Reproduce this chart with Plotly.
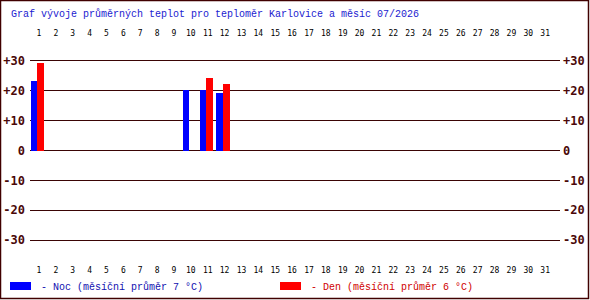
import plotly.graph_objects as go

days = list(range(1, 32))
night_days = [1, 10, 11, 12]
night_vals = [23.3, 20.3, 20.3, 19.4]
day_days = [1, 11, 12]
day_vals = [29.4, 24.4, 22.4]
y_ticks = [-30, -20, -10, 0, 10, 20, 30]
y_labels = ["-30", "-20", "-10", "0", "+10", "+20", "+30"]
title = "Graf vývoje průměrných teplot pro teploměr Karlovice a měsíc 07/2026"
legend_night = "- Noc (měsíční průměr 7 °C)"
legend_day = "- Den (měsíční průměr 6 °C)"

GRID = "#3a0505"
LAB = "#4a0808"

fig = go.Figure()
fig.add_trace(go.Bar(x=night_days, y=night_vals, marker=dict(color="#0000ff", line=dict(width=0)),
                     offset=-0.48, width=0.38, showlegend=False, hoverinfo="skip"))
fig.add_trace(go.Bar(x=day_days, y=day_vals, marker=dict(color="#ff0000", line=dict(width=0)),
                     offset=-0.1, width=0.4, showlegend=False, hoverinfo="skip"))
# invisible helper traces to activate mirrored axes
fig.add_trace(go.Scatter(x=[days[0]], y=[0], xaxis="x2", yaxis="y2", mode="markers",
                         marker=dict(opacity=0), showlegend=False, hoverinfo="skip"))

xr = [0.467, 31.88]
tickfont = dict(family="DejaVu Sans Mono", size=8, color="#000000")
yfont = dict(family="DejaVu Sans Mono", size=12, color=LAB, weight="bold")

fig.update_layout(
    width=590, height=300,
    margin=dict(l=30, r=30, t=46, b=45, autoexpand=False),
    paper_bgcolor="white", plot_bgcolor="white",
    bargap=0,
    xaxis=dict(range=xr, tickvals=days, ticktext=[str(d) for d in days], tickfont=tickfont,
               showgrid=False, zeroline=False, showline=False, ticks="", ticklabelstandoff=9,
               fixedrange=True),
    xaxis2=dict(range=xr, tickvals=days, ticktext=[str(d) for d in days], tickfont=tickfont,
                overlaying="x", side="top", showgrid=False, zeroline=False, showline=False,
                ticks="", ticklabelstandoff=7),
    yaxis=dict(range=[-35, 35], tickvals=y_ticks, ticktext=y_labels, tickfont=yfont,
               showgrid=True, gridcolor=GRID, gridwidth=1, zeroline=True, zerolinecolor=GRID,
               zerolinewidth=1, showline=False, ticks="", ticklabelstandoff=4),
    yaxis2=dict(range=[-35, 35], tickvals=y_ticks, ticktext=y_labels, tickfont=yfont,
                overlaying="y", side="right", showgrid=False, zeroline=False, showline=False,
                ticks="", ticklabelstandoff=2),
)

# title
fig.add_annotation(text=title, xref="paper", yref="paper", x=(9 - 30) / 530, y=(255 - 14) / 209,
                   xanchor="left", yanchor="middle", showarrow=False,
                   font=dict(family="Liberation Mono", size=10, color="#1a1ad0"))

# legend
def px(x):
    return (x - 30) / 530

def py(y):
    return (255 - y) / 209

fig.add_shape(type="rect", xref="paper", yref="paper", x0=px(10), x1=px(31), y0=py(282), y1=py(290),
              fillcolor="#0000ff", line=dict(width=0))
fig.add_annotation(text=legend_night, xref="paper", yref="paper", x=px(39), y=py(287),
                   xanchor="left", yanchor="middle", showarrow=False,
                   font=dict(family="Liberation Mono", size=10, color="#1010b0"))
fig.add_shape(type="rect", xref="paper", yref="paper", x0=px(280), x1=px(301), y0=py(282), y1=py(290),
              fillcolor="#ff0000", line=dict(width=0))
fig.add_annotation(text=legend_day, xref="paper", yref="paper", x=px(309), y=py(287),
                   xanchor="left", yanchor="middle", showarrow=False,
                   font=dict(family="Liberation Mono", size=10, color="#d00000"))

# outer border
fig.add_shape(type="rect", xref="paper", yref="paper", x0=px(0.5), x1=px(588.5), y0=py(298.5), y1=py(0.5),
              line=dict(color="#400000", width=1.5), fillcolor="rgba(0,0,0,0)", layer="above")

fig.write_html("out.html")
